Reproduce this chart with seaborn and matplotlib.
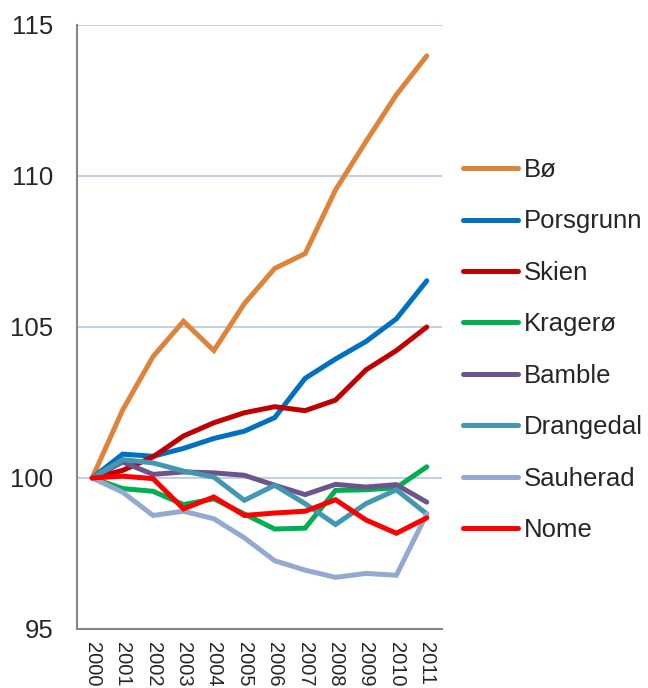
import numpy as np
import pandas as pd
import matplotlib
matplotlib.use('Agg')
import matplotlib.pyplot as plt
import seaborn as sns

years = ['2000', '2001', '2002', '2003', '2004', '2005', '2006', '2007', '2008', '2009', '2010', '2011']

bo = [100, 102.25, 104.02, 105.19, 104.22, 105.77, 106.94, 107.43, 109.54, 111.14, 112.69, 113.98]
porsgrunn = [100, 100.79, 100.72, 100.98, 101.31, 101.55, 102.0, 103.30, 103.94, 104.52, 105.27, 106.53]
skien = [100, 100.25, 100.70, 101.39, 101.83, 102.16, 102.36, 102.23, 102.58, 103.58, 104.22, 105.0]
kragero = [100, 99.65, 99.56, 99.12, 99.31, 98.81, 98.31, 98.34, 99.59, 99.61, 99.68, 100.37]
bamble = [100, 100.53, 100.12, 100.2, 100.17, 100.09, 99.76, 99.45, 99.79, 99.70, 99.78, 99.20]
drangedal = [100, 100.61, 100.50, 100.23, 100.03, 99.26, 99.76, 99.15, 98.46, 99.15, 99.61, 98.81]
sauherad = [100, 99.53, 98.76, 98.90, 98.65, 98.02, 97.26, 96.95, 96.71, 96.84, 96.78, 98.81]
nome = [100, 100.06, 99.98, 98.98, 99.37, 98.76, 98.84, 98.90, 99.28, 98.61, 98.17, 98.68]

kommuner = ['Bø', 'Porsgrunn', 'Skien', 'Kragerø', 'Bamble', 'Drangedal', 'Sauherad', 'Nome']
series = [bo, porsgrunn, skien, kragero, bamble, drangedal, sauherad, nome]
colors = ['#DE843A', '#0070C0', '#C00000', '#00B050', '#6E548D', '#4198B0', '#93A9CF', '#FF0000']

rows = []
for name, vals in zip(kommuner, series):
    for i, v in enumerate(vals):
        rows.append({'kommune': name, 'idx': i, 'value': v})
df = pd.DataFrame(rows)

sns.set_style('white')
plt.rcParams['font.family'] = ['Liberation Sans', 'DejaVu Sans']

fig = plt.figure(figsize=(6.48, 6.88), dpi=100)
ax = fig.add_axes([77 / 648, 1 - 629 / 688, (442 - 77) / 648, (629 - 25) / 688])

for y in [100, 105, 110, 115]:
    ax.axhline(y, color='#B9CDE5', lw=1.3, zorder=0)

sns.lineplot(data=df, x='idx', y='value', hue='kommune', hue_order=kommuner,
             palette=colors, linewidth=3.6, ax=ax, legend=True)
for ln in ax.get_lines():
    ln.set_solid_capstyle('round')
    ln.set_solid_joinstyle('miter')

ax.set_xlim(-0.5, 11.5)
ax.set_ylim(95, 115)
ax.set_yticks([95, 100, 105, 110, 115])
ax.set_xticks(np.arange(-0.5, 12, 1))
ax.set_xticklabels([])
ax.set_xticks(np.arange(12), minor=True)
ax.set_xticklabels(years, minor=True, rotation=-90, fontsize=14.5, va='top', ha='center')
ax.tick_params(axis='x', which='minor', length=0, pad=9.5)
ax.tick_params(axis='x', which='major', length=5, width=1.2, color='#868686', direction='inout')
ax.tick_params(axis='y', length=6, width=1.2, color='#868686', direction='out', labelsize=18.5, pad=11)
ax.set_xlabel('')
ax.set_ylabel('')

for s in ['top', 'right']:
    ax.spines[s].set_visible(False)
for s in ['left', 'bottom']:
    ax.spines[s].set_color('#868686')
    ax.spines[s].set_linewidth(1.5)

handles, labels = ax.get_legend_handles_labels()
ax.get_legend().remove()
leg = fig.legend(handles, labels, loc='upper left', bbox_to_anchor=(463 / 648, 1 - 158 / 688),
                 frameon=False, fontsize=18.5, handlelength=2.15, handletextpad=0.2,
                 labelspacing=1.07, borderpad=0, borderaxespad=0)
for h in leg.get_lines():
    h.set_linewidth(3.6)
    h.set_solid_capstyle('round')

fig.savefig('out.png', dpi=100)
